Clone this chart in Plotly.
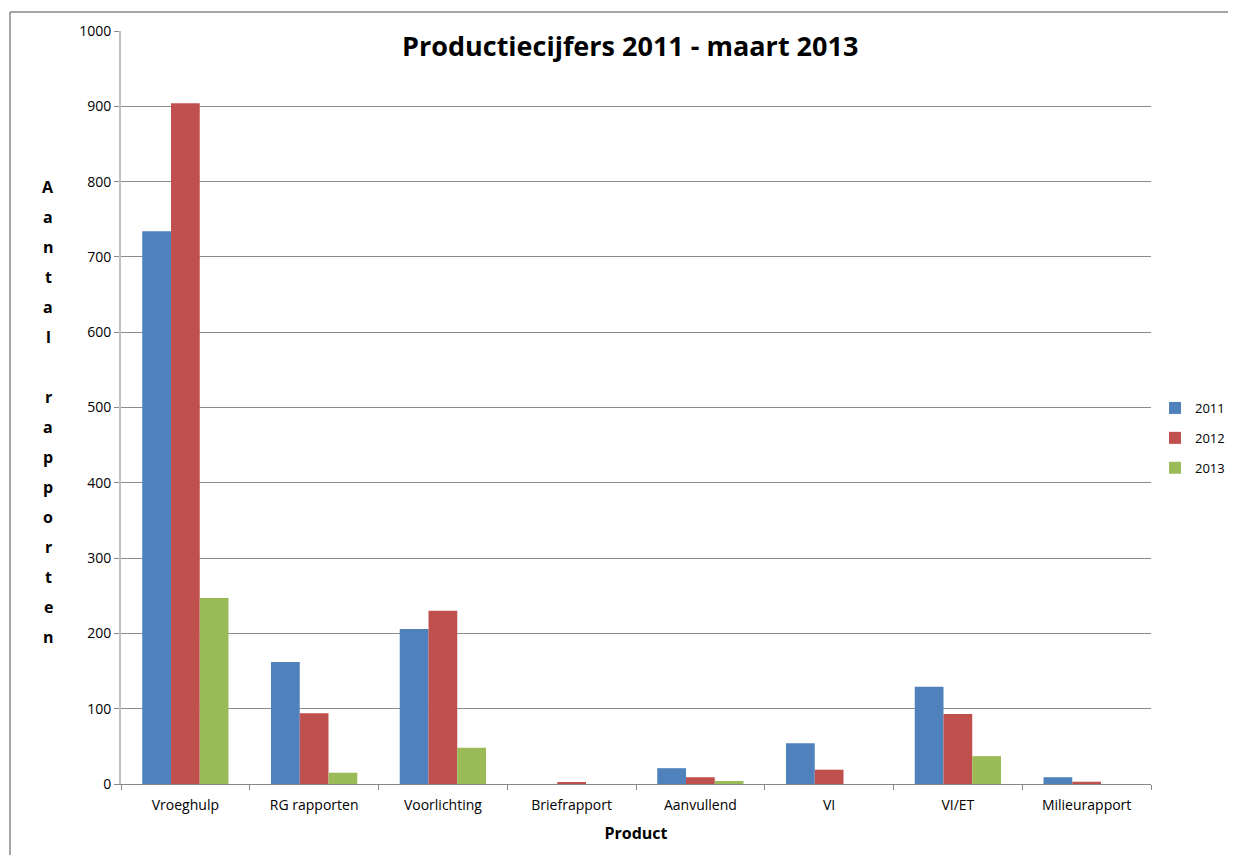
import plotly.graph_objects as go

categories = ["Vroeghulp", "RG rapporten", "Voorlichting", "Briefrapport", "Aanvullend", "VI", "VI/ET", "Milieurapport"]
v2011 = [734, 162, 206, 0, 21, 54, 129, 9]
v2012 = [904, 94, 230, 2, 9, 19, 93, 3]
v2013 = [247, 15, 48, 0, 4, 0, 37, 0]
series_names = ["2011", "2012", "2013"]
colors = ["#4F81BD", "#C0504D", "#9BBB59"]
y_ticks = [0, 100, 200, 300, 400, 500, 600, 700, 800, 900, 1000]

OFF = 8  # page body margin
W, H = 1236 - 2 * OFF, 863 - 2 * OFF
# reference pixel positions of the plot area
PX0, PX1, PY0, PY1 = 121, 1151, 31, 784
L, T = PX0 - OFF, PY0 - OFF
R, B = W - (PX1 - OFF), H - (PY1 - OFF)
pw, ph = PX1 - PX0, PY1 - PY0

def px(x):
    return (x - PX0) / pw

def py(y):
    return (PY1 - y) / ph

fig = go.Figure()
for name, vals, col in zip(series_names, [v2011, v2012, v2013], colors):
    fig.add_trace(go.Bar(x=categories, y=vals, name=name, legendgroup=name,
                         marker=dict(color=col, line=dict(width=0))))

font = "'Open Sans', sans-serif"
fig.update_layout(
    width=W, height=H,
    margin=dict(l=L, r=R, t=T, b=B, autoexpand=False),
    paper_bgcolor="white", plot_bgcolor="white",
    barmode="group", bargap=0.33, bargroupgap=0,
    font=dict(family=font, size=14, color="#000"),
    showlegend=True,
    legend=dict(x=px(1155), y=py(438), xanchor="left", yanchor="middle",
                font=dict(size=13), tracegroupgap=10, itemwidth=30),
    xaxis=dict(showline=True, linecolor="#888", linewidth=1,
               ticks="outside", tickson="boundaries", ticklen=5, tickcolor="#888",
               tickfont=dict(size=14), showgrid=False, ticklabelstandoff=8,
               title=dict(text="<b>Product</b>", font=dict(size=16), standoff=15)),
    yaxis=dict(range=[0, 1000], tickvals=y_ticks, showgrid=True, gridcolor="#8c8c8c", gridwidth=1,
               showline=True, linecolor="#c0c0c0", linewidth=2,
               ticks="outside", ticklen=5, tickcolor="#888", tickfont=dict(size=14),
               zeroline=False),
)

fig.add_annotation(text="<b>Productiecijfers 2011 - maart 2013</b>", xref="paper", yref="paper",
                   x=px(630), y=py(46), showarrow=False,
                   font=dict(size=27, family=font), xanchor="center", yanchor="middle")

label = "Aantal rapporten"
y_start = 187
step = 30
for i, ch in enumerate(label):
    if ch == " ":
        continue
    fig.add_annotation(text="<b>" + ch + "</b>", xref="paper", yref="paper",
                       x=px(48), y=py(y_start + i * step), showarrow=False,
                       font=dict(size=16, family=font), xanchor="center", yanchor="middle")

# chart-area frame (top and left edges visible in the reference)
fig.add_shape(type="line", xref="paper", yref="paper",
              x0=px(10), x1=px(1260), y0=py(12), y1=py(12),
              line=dict(color="#888", width=1.5), layer="below")
fig.add_shape(type="line", xref="paper", yref="paper",
              x0=px(10), x1=px(10), y0=py(12), y1=py(900),
              line=dict(color="#888", width=1.5), layer="below")

fig.write_html("out.html")
